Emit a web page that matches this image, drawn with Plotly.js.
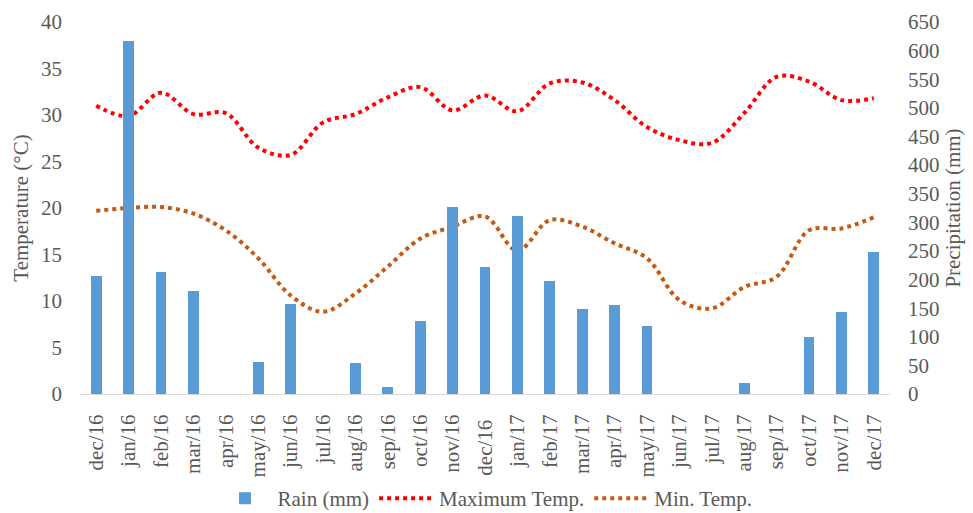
<!DOCTYPE html>
<html>
<head>
<meta charset="utf-8">
<script src="https://cdn.plot.ly/plotly-3.0.1.min.js"></script>
<style>html,body{margin:0;padding:0;background:#fff;}#chart{width:973px;height:513px;}</style>
</head>
<body>
<div id="chart"></div>
<script>
const months = ["dec/16","jan/16","feb/16","mar/16","apr/16","may/16","jun/16","jul/16","aug/16","sep/16","oct/16","nov/16","dec/16 ",
                "jan/17","feb/17","mar/17","apr/17","may/17","jun/17","jul/17","aug/17","sep/17","oct/17","nov/17","dec/17"];
const rain = [207,617,214,180,0,56,158,0,54,13,127,327,222,311,197,149,156,118,0,0,19,0,100,143,249];
const maxTemp = [31.0,29.9,32.4,30.1,30.2,26.5,25.7,29.2,30.1,31.9,33.0,30.5,32.1,30.4,33.4,33.5,31.6,28.7,27.3,27.0,30.2,34.1,33.6,31.6,31.8];
const minTemp = [19.7,20.0,20.1,19.4,17.6,14.6,10.6,8.85,10.8,13.7,16.7,18.0,19.1,15.4,18.7,18.0,16.2,14.6,10.1,9.2,11.5,12.6,17.6,17.8,19.0];

const textColor = "#595959";
const fontFam = "Liberation Serif, Times New Roman, serif";
const fs = 21;

const traces = [
  {type:"bar", name:"Rain (mm)", x:months, y:rain, yaxis:"y2",
   marker:{color:"#5B9BD5"}, width:0.33},
  {type:"scatter", mode:"lines", name:"Maximum Temp.", x:months, y:maxTemp, yaxis:"y",
   line:{color:"#FF0000", width:4, dash:"4px,4px", shape:"spline", smoothing:1}},
  {type:"scatter", mode:"lines", name:"Min. Temp.", x:months, y:minTemp, yaxis:"y",
   line:{color:"#C55A11", width:4, dash:"4px,4px", shape:"spline", smoothing:1}}
];

const layout = {
  width:973, height:513,
  margin:{l:80, r:83, t:22, b:119, autoexpand:false},
  paper_bgcolor:"#fff", plot_bgcolor:"#fff",
  font:{family:fontFam, size:fs, color:textColor},
  showlegend:true,
  legend:{orientation:"h", x:0.5, xanchor:"center", yref:"container", y:0.028, yanchor:"middle",
          itemwidth:55, font:{family:fontFam, size:fs, color:textColor}, traceorder:"normal"},
  bargap:0,
  xaxis:{type:"category", tickangle:-90, showgrid:false, zeroline:false, automargin:false,
         showline:true, linecolor:"#d9d9d9", linewidth:1, ticks:"", ticklabelstandoff:11,
         range:[-0.5,24.5], tickfont:{family:fontFam, size:fs, color:textColor}},
  yaxis:{range:[0,40], dtick:5, showgrid:false, zeroline:false, showline:false, ticks:"", automargin:false,
         ticklabelstandoff:17, tickfont:{family:fontFam, size:fs, color:textColor},
         title:{text:"Temperature (°C)", standoff:6, font:{family:fontFam, size:fs, color:textColor}}},
  yaxis2:{range:[0,650], dtick:50, overlaying:"y", side:"right", showgrid:false, zeroline:false,
          showline:false, ticks:"", ticklabelstandoff:17, automargin:false,
          tickfont:{family:fontFam, size:fs, color:textColor},
          title:{text:"Precipitation (mm)", standoff:6, font:{family:fontFam, size:fs, color:textColor}}}
};

Plotly.newPlot("chart", traces, layout, {displayModeBar:false, staticPlot:true});
</script>
</body>
</html>
